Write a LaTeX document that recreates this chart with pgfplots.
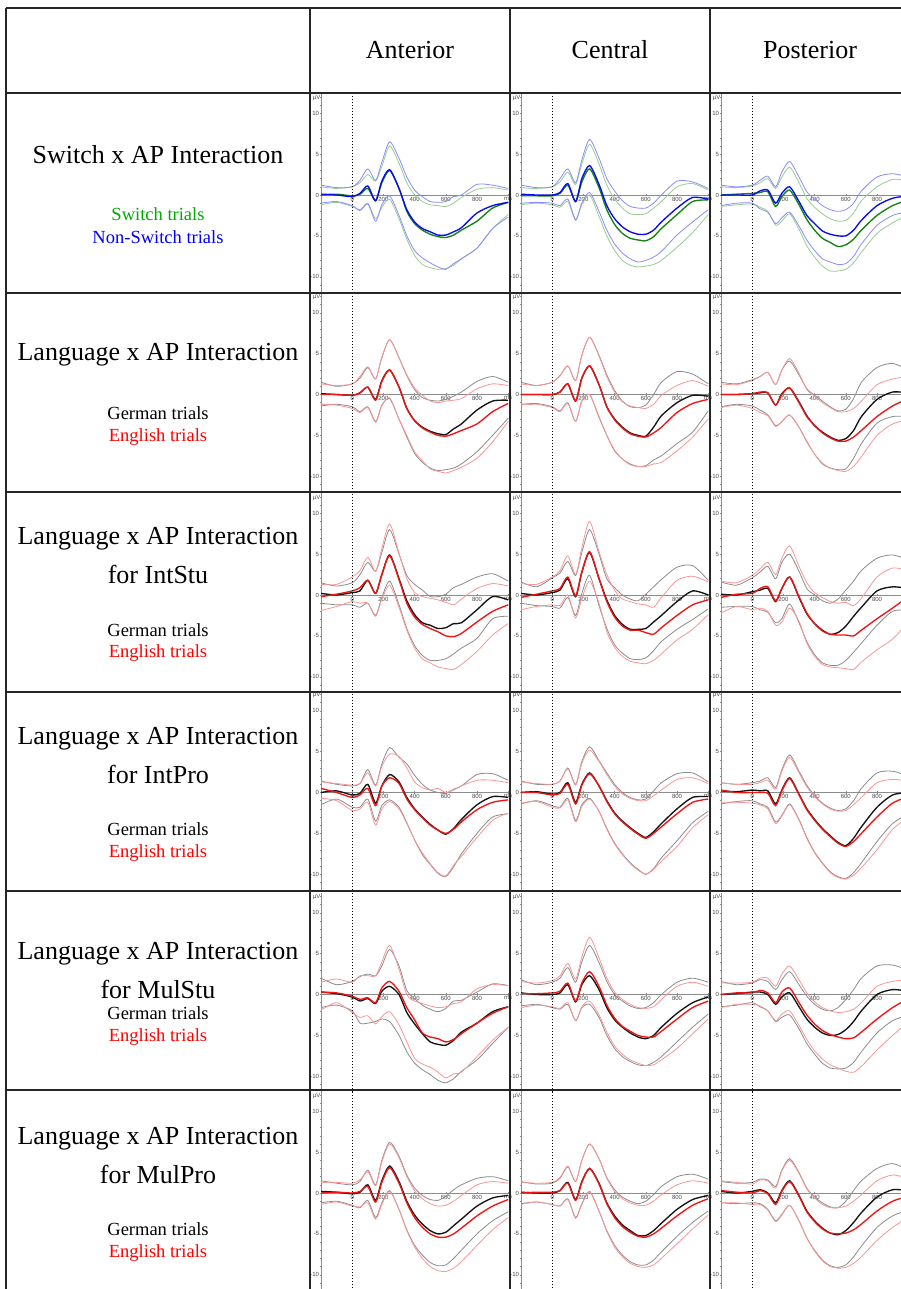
\documentclass[border=0pt]{standalone}
\usepackage{fontspec}
\setmainfont{Liberation Serif}
\newfontfamily\tickfam{Liberation Sans}
\usepackage{pgfplots}
\usepackage{pgfplotstable}
\pgfplotsset{compat=1.18}
\newcommand\tickf{\tickfam\fontsize{6}{6}\selectfont}
\definecolor{mgreen}{RGB}{20,130,20}
\definecolor{lgreen}{RGB}{150,205,150}
\definecolor{mblue}{RGB}{10,10,240}
\definecolor{lblue}{RGB}{140,140,250}
\definecolor{mred}{RGB}{240,20,20}
\definecolor{lred}{RGB}{250,150,150}
\definecolor{lgray}{RGB}{140,140,140}
\definecolor{mblack}{RGB}{20,20,20}
\definecolor{tgreen}{RGB}{0,170,0}
\definecolor{tblue}{RGB}{0,0,255}
\definecolor{tred}{RGB}{255,0,0}

\pgfplotsset{panel/.style={
  scale only axis, width=189pt, height=199.5pt,
  xmin=-200, xmax=1011.5, ymin=-11.93, ymax=12.48,
  axis y line=left, axis x line=middle,
  axis line style={-, draw=black!45, line width=0.7pt},
  xtick={0,200,400,600,800,1000}, xticklabels={0,200,400,600,800,ms},
  ytick={-10,-5,0,5,10}, yticklabels={-10,-5,0,5,10},
  minor ytick={-11,...,12},
  major tick length=2.5pt, minor tick length=1.2pt,
  tick style={draw=black!45, line width=0.4pt},
  tick label style={font=\tickf, text=black!70, inner sep=0.5pt},
  clip mode=individual},
  bnd/.style={line width=0.8pt, smooth, tension=0.45},
  mean/.style={line width=1.35pt, smooth, tension=0.45}}

% row 1: a = switch (green), b = non-switch (blue)
\pgfplotstableread{
t a b ah al bh bl
-200 0.0 0.1 1.0 -1.2 1.2 -1.0
-100 0.1 0.0 0.8 -0.9 0.9 -0.8
0 -0.1 -0.2 1.0 -1.4 1.0 -1.3
50 0.1 0.2 1.5 -1.8 1.8 -1.9
100 0.8 1.1 2.5 -1.0 3.2 -1.1
150 -0.7 -0.7 1.7 -2.9 1.8 -3.2
190 1.5 1.7 3.5 -1.5 4.0 -1.2
240 3.0 3.1 6.0 -0.5 6.5 -0.1
300 0.8 0.8 3.9 -2.9 4.5 -2.5
350 -2.0 -1.8 1.5 -5.4 2.2 -5.0
400 -3.5 -3.3 0.0 -7.4 0.6 -6.8
450 -4.3 -4.1 -0.8 -8.5 -0.2 -7.7
500 -4.8 -4.5 -1.2 -8.9 -0.8 -8.3
550 -5.1 -4.9 -1.3 -9.1 -0.9 -8.8
600 -5.2 -4.9 -1.4 -9.0 -0.8 -9.1
650 -4.9 -4.5 -1.0 -8.6 -0.2 -8.4
700 -4.3 -4.0 -0.3 -7.8 0.0 -7.8
800 -3.2 -2.2 0.7 -6.5 1.3 -6.5
900 -1.6 -1.3 0.9 -4.1 1.2 -4.1
1000 -0.9 -0.9 0.6 -2.4 0.8 -2.7
}\tAa
\pgfplotstableread{
t a b ah al bh bl
-200 -0.1 0.1 0.9 -1.2 1.2 -1.0
-100 -0.1 0.0 0.8 -1.0 0.9 -0.9
0 -0.1 0.0 1.0 -1.2 1.0 -1.0
50 0.2 0.3 1.6 -1.5 2.0 -1.3
100 1.2 1.4 2.8 -0.8 3.2 -0.5
150 -0.8 -0.8 1.3 -3.1 1.5 -3.0
190 1.6 2.0 3.8 -1.2 4.3 -1.0
240 3.2 3.6 6.2 0.0 6.8 0.3
300 0.9 1.3 3.8 -2.6 4.5 -2.0
350 -1.8 -1.3 1.2 -5.0 2.0 -4.3
400 -3.6 -2.9 -0.5 -6.8 0.5 -6.0
450 -4.7 -3.9 -1.6 -8.0 -0.7 -7.1
500 -5.3 -4.5 -2.3 -8.6 -1.4 -7.8
550 -5.5 -4.8 -2.4 -8.8 -1.6 -8.2
600 -5.6 -4.8 -2.3 -8.7 -1.6 -8.0
650 -5.1 -4.3 -1.6 -8.5 -1.0 -7.6
700 -4.1 -3.3 -0.8 -8.0 0.0 -6.9
800 -2.4 -1.6 1.0 -6.4 1.7 -4.9
900 -0.8 -0.3 1.4 -4.6 1.6 -3.3
1000 -0.6 -0.5 0.6 -2.4 0.8 -1.8
}\tAb
\pgfplotstableread{
t a b ah al bh bl
-200 0.0 0.0 1.0 -1.4 1.2 -1.3
-100 0.1 0.0 0.9 -1.2 1.0 -1.0
0 0.2 0.0 1.1 -1.1 1.2 -1.0
50 0.3 0.5 1.5 -1.5 1.8 -1.7
100 0.4 0.6 2.0 -2.0 2.3 -2.1
150 -1.4 -1.0 0.8 -3.7 1.0 -3.5
190 -0.2 0.2 2.2 -3.2 2.8 -2.8
240 0.6 1.0 3.4 -2.3 4.1 -2.1
300 -1.2 -0.8 1.5 -4.2 2.2 -3.8
350 -3.0 -2.5 -0.4 -6.2 0.4 -5.5
400 -4.3 -3.5 -1.5 -7.6 -0.5 -6.8
450 -5.3 -4.4 -2.3 -8.7 -1.3 -7.8
500 -5.8 -4.8 -2.9 -9.3 -1.8 -8.2
550 -6.3 -5.0 -3.2 -9.3 -2.0 -8.5
600 -6.1 -5.0 -3.1 -9.1 -1.8 -8.4
650 -5.4 -4.3 -2.2 -8.3 -1.0 -7.5
700 -4.3 -3.1 -0.7 -7.0 0.5 -6.0
800 -2.5 -1.3 1.0 -4.7 2.2 -3.7
900 -1.3 -0.4 1.9 -3.4 2.6 -2.5
1000 -0.6 -0.1 1.8 -2.4 2.2 -2.0
}\tAc
% rows 2-6: a = German (black), b = English (red)
\pgfplotstableread{
t a b ah al bh bl
-200 0.1 0.0 1.5 -1.4 1.3 -1.2
-100 0.0 0.0 1.0 -1.2 1.1 -1.3
0 -0.1 -0.1 1.3 -1.5 1.3 -1.7
50 0.2 0.2 2.0 -2.1 2.2 -2.2
100 0.9 0.9 3.3 -1.5 3.4 -1.6
150 -0.6 -0.7 1.9 -3.3 1.9 -3.4
190 1.7 1.6 4.5 -1.3 4.6 -1.4
240 3.0 3.0 6.7 -0.5 6.7 -0.4
300 0.9 0.9 4.5 -3.0 4.5 -3.0
350 -1.7 -1.7 2.3 -5.2 2.4 -5.0
400 -3.2 -3.2 0.6 -7.2 0.8 -7.0
450 -4.0 -4.1 -0.4 -8.3 -0.1 -8.1
500 -4.5 -4.6 -0.7 -9.0 -0.8 -9.1
550 -4.8 -5.0 -0.8 -9.3 -1.0 -9.4
600 -4.9 -5.1 -0.6 -9.2 -0.8 -9.6
650 -4.2 -4.8 -0.2 -9.0 -0.7 -9.3
700 -3.6 -4.4 0.3 -8.5 -0.5 -8.9
800 -1.9 -3.6 1.6 -7.0 0.7 -7.8
900 -0.8 -2.1 2.2 -5.0 1.3 -5.8
1000 -0.7 -1.1 1.5 -2.9 1.1 -3.3
}\tBa
\pgfplotstableread{
t a b ah al bh bl
-200 0.0 0.0 1.5 -1.2 1.3 -1.3
-100 0.0 0.0 1.1 -1.1 1.1 -1.2
0 0.0 0.0 1.5 -1.5 1.5 -1.6
50 0.3 0.3 2.3 -2.0 2.3 -2.1
100 1.3 1.3 3.5 -1.0 3.5 -1.1
150 -0.8 -0.8 1.7 -3.3 1.7 -3.3
190 2.0 2.0 4.8 -0.8 4.8 -0.8
240 3.5 3.5 7.0 0.0 7.0 0.0
300 1.2 1.2 4.8 -2.8 4.7 -2.7
350 -1.5 -1.5 2.4 -5.0 2.2 -5.0
400 -3.0 -3.1 0.5 -6.9 0.3 -6.8
450 -4.0 -4.1 -0.8 -7.9 -0.9 -7.9
500 -4.7 -4.8 -1.5 -8.5 -1.4 -8.6
550 -5.0 -5.1 -1.6 -8.8 -1.6 -8.8
600 -5.1 -5.2 -1.3 -8.7 -1.7 -8.8
650 -4.0 -4.7 0.0 -8.0 -1.2 -8.5
700 -2.6 -4.0 1.5 -7.5 -0.1 -8.3
800 -1.0 -2.2 2.8 -6.0 1.1 -6.9
900 -0.1 -1.1 2.5 -4.6 1.7 -5.2
1000 -0.2 -0.6 1.3 -2.0 1.0 -3.0
}\tBb
\pgfplotstableread{
t a b ah al bh bl
-200 0.0 0.0 1.5 -1.5 1.3 -1.6
-100 0.0 0.0 1.3 -1.2 1.2 -1.3
0 0.1 0.1 1.8 -1.4 1.7 -1.7
50 0.2 0.3 2.2 -1.9 2.2 -2.2
100 0.2 0.2 2.7 -2.5 2.7 -2.6
150 -1.3 -1.3 1.2 -3.8 1.2 -3.9
190 0.1 0.0 3.0 -3.3 3.0 -3.3
240 0.8 0.8 4.1 -2.5 4.4 -2.5
300 -0.9 -1.0 2.4 -4.0 2.6 -4.0
350 -2.6 -2.7 0.7 -5.8 0.6 -5.7
400 -3.8 -3.8 -0.1 -7.3 -0.2 -7.3
450 -4.6 -4.7 -0.8 -8.5 -1.0 -8.4
500 -5.2 -5.3 -1.5 -9.0 -1.6 -9.0
550 -5.6 -5.7 -2.0 -9.2 -2.1 -9.3
600 -5.4 -5.7 -1.8 -9.1 -2.1 -9.4
650 -4.4 -5.2 -0.5 -7.8 -1.7 -8.8
700 -2.7 -4.4 1.5 -6.0 -0.8 -7.6
800 -0.6 -2.7 3.3 -3.5 1.2 -5.0
900 0.3 -1.4 3.8 -2.7 1.9 -3.6
1000 0.2 -0.5 3.0 -2.7 2.2 -3.1
}\tBc
\pgfplotstableread{
t a b ah al bh bl
-200 0.2 -0.2 1.5 -1.0 1.3 -1.9
-100 0.0 0.1 1.1 -1.2 1.3 -1.4
0 0.3 0.5 1.5 -1.2 2.2 -0.8
50 0.5 0.9 2.5 -1.5 3.0 -1.0
100 1.8 1.8 4.0 -1.0 4.6 -1.0
150 0.2 0.2 2.9 -2.5 2.9 -2.6
190 2.5 2.5 5.2 -0.3 5.7 -0.5
240 4.9 4.8 8.0 1.7 8.7 1.2
300 2.0 1.9 5.0 -1.2 5.1 -1.5
350 -0.7 -1.0 2.4 -4.1 2.0 -4.3
400 -2.4 -2.7 1.3 -6.2 0.3 -6.5
450 -3.4 -3.6 0.6 -7.4 -0.2 -7.8
500 -3.7 -4.1 -0.2 -8.0 -0.4 -8.3
550 -4.1 -4.5 -0.2 -8.0 -0.6 -8.8
600 -4.0 -5.0 0.1 -7.8 -0.9 -9.0
650 -3.5 -5.1 0.9 -7.2 -1.2 -9.1
700 -3.4 -4.7 1.3 -6.5 -0.5 -8.5
800 -1.8 -3.3 2.2 -5.3 0.8 -6.9
900 -0.2 -2.0 2.6 -2.9 1.4 -4.9
1000 -0.6 -1.2 1.7 -2.6 1.1 -3.5
}\tCa
\pgfplotstableread{
t a b ah al bh bl
-200 0.2 -0.3 1.6 -1.0 1.4 -1.8
-100 0.0 0.1 1.0 -1.3 1.3 -1.4
0 0.3 0.5 2.1 -1.4 2.2 -1.2
50 0.6 0.8 2.7 -1.6 3.0 -1.3
100 2.0 2.2 4.1 -0.3 4.8 0.0
150 -0.2 -0.1 2.4 -2.5 2.5 -2.8
190 2.8 2.8 5.2 0.2 5.8 -0.4
240 5.2 5.3 8.0 2.4 9.0 1.7
300 2.0 2.0 5.0 -1.3 5.3 -1.0
350 -0.6 -0.8 2.0 -4.1 2.5 -4.5
400 -2.5 -2.7 0.9 -6.1 0.6 -6.4
450 -3.6 -3.8 0.0 -7.1 -0.5 -7.5
500 -4.2 -4.3 -0.5 -7.8 -0.8 -8.1
550 -4.2 -4.3 -0.7 -7.9 -1.1 -8.3
600 -4.1 -4.6 0.1 -7.7 -1.2 -8.4
650 -3.3 -4.8 1.0 -6.8 -1.5 -8.0
700 -2.5 -4.0 1.9 -5.7 -0.3 -7.2
800 -0.8 -2.5 3.4 -4.2 1.8 -5.5
900 0.5 -1.2 3.6 -3.0 2.3 -4.2
1000 0.0 -0.6 1.8 -1.7 1.6 -2.4
}\tCb
\pgfplotstableread{
t a b ah al bh bl
-200 0.1 -0.3 1.6 -1.5 1.7 -2.2
-100 0.0 0.1 1.2 -1.4 1.5 -1.4
0 0.4 0.2 2.1 -1.4 2.4 -1.8
50 0.6 0.8 2.8 -1.8 3.2 -1.6
100 0.8 1.0 3.5 -2.1 4.0 -2.0
150 -0.8 -0.7 2.0 -3.4 2.5 -3.7
190 0.8 0.8 4.0 -2.9 4.5 -3.3
240 2.2 2.2 5.0 -1.1 6.0 -1.6
300 -0.3 -0.2 2.9 -3.4 3.5 -3.2
350 -2.3 -2.2 0.8 -5.7 1.5 -5.9
400 -3.5 -3.5 0.0 -7.3 0.3 -7.5
450 -4.3 -4.4 -0.7 -8.3 -0.3 -8.5
500 -4.8 -4.8 -1.0 -8.6 -0.8 -8.8
550 -4.6 -4.9 -0.5 -8.6 -1.0 -8.9
600 -3.8 -4.9 0.6 -8.0 -0.9 -9.0
650 -2.6 -5.0 1.7 -7.0 -1.3 -9.1
700 -1.5 -4.3 3.0 -5.9 -0.4 -8.2
800 0.5 -2.9 4.5 -3.7 2.2 -6.7
900 1.0 -1.6 4.9 -2.0 3.3 -5.4
1000 0.8 -0.2 4.3 -1.8 3.0 -3.3
}\tCc
\pgfplotstableread{
t a b ah al bh bl
-200 0.0 0.5 1.4 -1.5 1.3 -0.7
-100 0.2 0.0 1.0 -0.8 1.1 -1.0
0 -0.3 -0.6 0.8 -1.8 0.9 -2.2
50 -0.1 -0.3 1.1 -1.8 1.1 -2.0
100 1.0 0.5 2.8 -0.8 2.4 -1.2
150 -1.3 -1.6 0.9 -3.5 0.8 -4.0
190 0.8 0.8 3.5 -1.6 3.2 -2.0
240 2.2 1.8 5.5 -0.9 4.7 -1.1
300 1.3 1.1 4.3 -1.8 4.4 -2.0
350 -0.6 -0.8 3.5 -3.7 3.0 -3.8
400 -2.0 -2.1 2.1 -5.8 1.3 -5.8
450 -3.0 -3.1 1.0 -7.6 0.6 -7.4
500 -3.9 -4.0 0.3 -8.8 0.3 -8.7
550 -4.6 -4.6 0.0 -9.9 0.5 -9.8
600 -5.1 -5.0 -0.1 -10.3 0.0 -10.2
650 -4.4 -4.5 0.4 -9.1 0.3 -8.9
700 -3.3 -3.6 0.8 -7.5 0.8 -7.8
800 -1.5 -2.1 2.2 -5.0 1.5 -5.5
900 -0.5 -1.2 2.3 -3.0 1.5 -3.4
1000 -0.6 -0.9 1.5 -2.6 1.2 -2.5
}\tDa
\pgfplotstableread{
t a b ah al bh bl
-200 0.0 0.0 1.4 -1.4 1.3 -1.3
-100 0.1 0.0 1.0 -1.0 1.1 -1.1
0 -0.2 -0.3 1.0 -1.6 1.0 -1.8
50 0.0 -0.1 1.4 -1.8 1.4 -1.9
100 1.2 1.0 3.0 -0.7 2.9 -0.9
150 -1.2 -1.4 1.0 -3.4 0.9 -3.6
190 1.0 0.9 3.8 -1.5 3.6 -1.7
240 2.4 2.3 5.6 -0.7 5.2 -0.8
300 0.8 0.8 3.9 -2.3 3.8 -2.3
350 -1.0 -1.1 2.4 -4.4 2.2 -4.5
400 -2.5 -2.6 1.0 -6.2 0.8 -6.3
450 -3.5 -3.6 0.0 -7.5 -0.2 -7.6
500 -4.3 -4.4 -0.6 -8.6 -0.7 -8.7
550 -5.0 -5.1 -0.9 -9.4 -1.0 -9.5
600 -5.5 -5.6 -0.8 -10.0 -1.0 -10.0
650 -4.8 -5.0 0.2 -9.3 -0.4 -9.4
700 -3.8 -4.2 1.2 -8.0 0.3 -8.4
800 -2.0 -2.6 2.3 -5.9 1.6 -6.6
900 -0.6 -1.2 2.4 -3.7 1.8 -4.3
1000 -0.5 -0.8 1.3 -2.3 1.1 -2.7
}\tDb
\pgfplotstableread{
t a b ah al bh bl
-200 0.2 0.3 1.2 -1.4 1.2 -1.2
-100 0.1 0.0 1.0 -1.1 1.0 -1.2
0 0.3 0.0 1.2 -1.0 1.0 -1.3
50 0.2 0.0 1.4 -1.4 1.2 -1.5
100 0.2 -0.1 1.8 -1.8 1.5 -2.0
150 -1.4 -1.6 0.6 -3.6 0.4 -3.8
190 0.3 0.2 2.8 -2.8 2.6 -2.9
240 1.8 1.7 4.6 -1.4 4.3 -1.5
300 -0.2 -0.3 2.6 -3.3 2.4 -3.4
350 -2.0 -2.1 0.9 -5.5 0.7 -5.6
400 -3.3 -3.4 -0.4 -7.3 -0.5 -7.4
450 -4.4 -4.5 -1.3 -8.6 -1.4 -8.7
500 -5.3 -5.4 -1.9 -9.7 -2.0 -9.8
550 -6.1 -6.2 -2.2 -10.3 -2.3 -10.4
600 -6.5 -6.6 -2.0 -10.5 -2.2 -10.6
650 -5.6 -6.0 -1.0 -9.8 -1.5 -10.1
700 -4.2 -5.0 0.5 -8.6 -0.6 -9.2
800 -1.8 -3.0 2.4 -6.0 1.2 -7.0
900 -0.3 -1.3 2.6 -3.8 1.6 -4.5
1000 0.0 -0.5 2.0 -2.6 1.4 -3.0
}\tDc
\pgfplotstableread{
t a b ah al bh bl
-200 0.3 0.3 2.0 -1.6 1.5 -1.9
-100 0.1 0.2 1.2 -1.3 1.9 -1.0
0 -0.3 -0.2 1.6 -2.0 1.5 -2.2
50 -0.8 -0.6 2.2 -3.5 2.3 -2.8
100 -0.5 -0.4 2.5 -3.5 2.3 -2.6
150 -1.1 -1.0 2.3 -3.3 2.3 -3.6
190 0.4 0.8 3.5 -3.0 4.0 -2.7
240 1.0 1.6 5.5 -3.3 6.0 -2.1
300 0.0 0.4 3.5 -5.0 3.1 -3.7
350 -2.2 -1.6 0.5 -7.0 0.0 -5.8
400 -3.6 -3.1 -0.5 -8.4 -0.8 -7.8
450 -4.8 -4.7 -1.3 -9.2 -1.1 -8.5
500 -5.8 -5.2 -1.8 -9.8 -1.4 -8.9
550 -6.1 -5.4 -2.1 -10.5 -1.6 -9.5
600 -6.2 -5.8 -1.7 -10.8 -1.5 -10.2
650 -5.6 -5.5 -0.8 -10.3 -1.1 -9.7
700 -4.6 -4.8 -0.7 -9.4 -0.9 -9.5
800 -3.5 -3.5 0.3 -8.0 0.7 -7.6
900 -2.1 -2.3 1.3 -6.0 1.2 -5.6
1000 -1.5 -1.5 1.1 -4.0 1.1 -4.0
}\tEa
\pgfplotstableread{
t a b ah al bh bl
-200 0.2 0.1 1.8 -1.4 1.6 -1.6
-100 0.0 0.1 1.2 -1.2 1.4 -1.3
0 0.0 0.2 1.5 -1.6 1.7 -1.5
50 0.2 0.4 2.0 -1.8 2.3 -1.7
100 1.2 1.4 3.3 -1.2 3.8 -1.0
150 -0.9 -0.8 1.5 -3.2 1.9 -3.2
190 1.2 1.4 4.0 -1.6 4.6 -1.5
240 2.3 2.8 6.0 -1.2 7.0 -0.8
300 0.6 1.0 3.9 -2.8 4.5 -2.5
350 -1.6 -1.3 1.6 -5.0 2.0 -4.6
400 -3.1 -2.9 0.0 -6.6 0.3 -6.3
450 -4.0 -3.9 -0.8 -7.6 -0.6 -7.3
500 -4.7 -4.5 -1.4 -8.2 -1.2 -8.0
550 -5.2 -5.0 -1.7 -8.6 -1.6 -8.4
600 -5.4 -5.2 -1.6 -8.7 -1.7 -8.7
650 -5.0 -5.2 -1.0 -8.3 -1.5 -8.6
700 -4.0 -4.5 0.0 -7.6 -0.6 -8.0
800 -2.3 -3.0 1.5 -5.8 1.0 -6.6
900 -1.0 -1.6 2.0 -4.0 1.5 -4.8
1000 -0.3 -0.8 1.5 -2.4 1.0 -3.0
}\tEb
\pgfplotstableread{
t a b ah al bh bl
-200 0.0 0.0 1.6 -1.5 1.4 -1.6
-100 0.1 0.2 1.2 -1.3 1.4 -1.2
0 0.3 0.2 1.4 -1.0 1.5 -1.2
50 0.3 0.5 1.8 -1.5 2.0 -1.4
100 0.0 0.2 1.6 -2.0 2.0 -2.0
150 -1.2 -1.0 0.6 -3.3 1.0 -3.2
190 -0.3 0.3 1.8 -2.8 2.5 -2.4
240 0.2 0.8 2.8 -2.5 3.5 -2.0
300 -1.5 -1.0 1.2 -4.2 1.8 -3.8
350 -3.0 -2.5 -0.2 -6.0 0.2 -5.5
400 -4.0 -3.6 -1.2 -7.3 -0.9 -6.9
450 -4.7 -4.4 -1.8 -8.4 -1.6 -7.9
500 -5.0 -4.9 -2.0 -9.0 -2.0 -8.6
550 -4.9 -5.2 -1.6 -9.1 -2.2 -9.0
600 -4.3 -5.4 -0.6 -9.0 -2.1 -9.4
650 -3.3 -5.3 0.6 -8.3 -1.8 -9.5
700 -2.0 -4.6 2.0 -7.0 -1.0 -8.8
800 0.0 -3.0 3.5 -4.7 1.0 -6.8
900 0.6 -1.6 3.6 -3.2 1.6 -5.0
1000 0.4 -0.5 3.0 -2.5 1.8 -3.4
}\tEc
\pgfplotstableread{
t a b ah al bh bl
-200 0.2 0.0 1.5 -1.2 1.3 -1.4
-100 0.1 0.1 1.2 -1.0 1.3 -1.1
0 -0.1 0.0 1.0 -1.5 1.2 -1.6
50 0.1 0.2 1.4 -1.8 1.6 -1.7
100 1.0 0.8 2.8 -0.9 2.6 -1.2
150 -0.9 -1.1 1.0 -3.0 0.9 -3.2
190 1.5 1.3 4.0 -1.2 3.8 -1.4
240 3.3 3.1 6.2 0.3 6.0 0.2
300 1.4 1.2 4.5 -2.0 4.3 -2.0
350 -1.0 -1.2 2.2 -4.5 2.0 -4.6
400 -2.7 -3.0 0.6 -6.4 0.3 -6.6
450 -3.8 -4.2 -0.3 -7.6 -0.7 -8.0
500 -4.6 -5.0 -0.8 -8.5 -1.3 -9.0
550 -5.0 -5.4 -0.9 -8.9 -1.6 -9.5
600 -4.8 -5.4 -0.4 -8.8 -1.5 -9.6
650 -4.0 -5.0 0.4 -8.0 -1.0 -9.2
700 -3.2 -4.3 1.0 -7.0 -0.3 -8.4
800 -1.6 -2.8 1.8 -5.0 1.0 -6.4
900 -0.6 -1.6 2.0 -3.4 1.4 -4.5
1000 -0.3 -0.8 1.5 -2.3 1.2 -3.0
}\tFa
\pgfplotstableread{
t a b ah al bh bl
-200 0.1 0.0 1.4 -1.3 1.3 -1.4
-100 0.0 0.1 1.1 -1.1 1.2 -1.1
0 0.0 0.1 1.2 -1.4 1.3 -1.4
50 0.3 0.3 1.8 -1.6 1.9 -1.6
100 1.3 1.2 3.2 -0.7 3.3 -0.8
150 -0.8 -0.9 1.4 -3.0 1.4 -3.1
190 1.4 1.3 4.0 -1.3 4.0 -1.4
240 3.0 3.0 6.0 0.2 6.0 0.1
300 1.2 1.1 4.2 -2.2 4.2 -2.2
350 -1.2 -1.3 1.9 -4.6 1.8 -4.7
400 -2.8 -3.0 0.4 -6.4 0.2 -6.6
450 -3.9 -4.1 -0.5 -7.6 -0.7 -7.8
500 -4.6 -4.8 -1.0 -8.4 -1.2 -8.6
550 -5.2 -5.3 -1.3 -8.8 -1.5 -9.0
600 -5.2 -5.4 -1.0 -8.8 -1.5 -9.1
650 -4.6 -5.0 -0.2 -8.2 -1.0 -8.8
700 -3.7 -4.3 0.8 -7.2 -0.2 -8.0
800 -2.0 -2.8 2.0 -5.3 1.0 -6.2
900 -0.8 -1.5 2.3 -3.6 1.5 -4.4
1000 -0.3 -0.7 1.7 -2.2 1.2 -2.7
}\tFb
\pgfplotstableread{
t a b ah al bh bl
-200 0.2 0.3 1.4 -1.2 1.5 -1.2
-100 0.0 0.1 1.2 -1.3 1.3 -1.2
0 0.2 0.0 1.3 -1.2 1.1 -1.4
50 0.4 0.3 1.7 -1.3 1.6 -1.4
100 0.0 -0.1 1.6 -2.0 1.5 -2.1
150 -1.2 -1.4 0.8 -3.4 0.6 -3.5
190 0.3 0.2 2.8 -2.6 2.7 -2.7
240 1.5 1.4 4.2 -1.5 4.0 -1.5
300 -0.3 -0.4 2.5 -3.4 2.4 -3.4
350 -2.2 -2.3 0.6 -5.5 0.5 -5.5
400 -3.4 -3.5 -0.5 -7.0 -0.6 -7.1
450 -4.3 -4.4 -1.2 -8.2 -1.4 -8.3
500 -4.9 -4.9 -1.7 -8.9 -1.8 -9.0
550 -5.1 -5.0 -1.8 -9.1 -1.8 -9.2
600 -4.6 -4.9 -1.0 -8.8 -1.6 -9.1
650 -3.6 -4.5 0.3 -7.8 -1.0 -8.6
700 -2.4 -3.8 1.5 -6.5 -0.2 -7.8
800 -0.5 -2.2 3.0 -4.2 1.5 -5.8
900 0.4 -1.0 3.6 -2.8 2.2 -4.2
1000 0.3 -0.4 2.8 -2.1 1.8 -3.0
}\tFc

% #1 axis left x in pt, #2 axis bottom (pt below top), #3 table, #4 mean a, #5 bound a, #6 mean b, #7 bound b
\newcommand{\panel}[7]{%
\begin{axis}[panel, at={(#1pt,-#2pt)}, anchor=south west]
\addplot[bnd,#5] table[x=t,y=ah]{#3};
\addplot[bnd,#5] table[x=t,y=al]{#3};
\addplot[bnd,#7] table[x=t,y=bh]{#3};
\addplot[bnd,#7] table[x=t,y=bl]{#3};
\addplot[mean,#4] table[x=t,y=a]{#3};
\addplot[mean,#6] table[x=t,y=b]{#3};
\draw[black, line width=1pt, dash pattern=on 1pt off 2pt] (axis cs:0,-11.93) -- (axis cs:0,12.48);
\node[anchor=north east, font=\tickf, text=black!70, inner sep=0.5pt] at (axis cs:-200,12.3) {µV};
\end{axis}}

\begin{document}
\begin{tikzpicture}[x=1pt,y=1pt]
\path[use as bounding box] (0,0) rectangle (901,-1289);
\fill[white] (0,0) rectangle (901,-1289);

% panels
\panel{321}{292.5}{\tAa}{mgreen}{lgreen}{mblue}{lblue}
\panel{521}{292.5}{\tAb}{mgreen}{lgreen}{mblue}{lblue}
\panel{721}{292.5}{\tAc}{mgreen}{lgreen}{mblue}{lblue}
\panel{321}{492}{\tBa}{mblack}{lgray}{mred}{lred}
\panel{521}{492}{\tBb}{mblack}{lgray}{mred}{lred}
\panel{721}{492}{\tBc}{mblack}{lgray}{mred}{lred}
\panel{321}{692.5}{\tCa}{mblack}{lgray}{mred}{lred}
\panel{521}{692.5}{\tCb}{mblack}{lgray}{mred}{lred}
\panel{721}{692.5}{\tCc}{mblack}{lgray}{mred}{lred}
\panel{321}{890}{\tDa}{mblack}{lgray}{mred}{lred}
\panel{521}{890}{\tDb}{mblack}{lgray}{mred}{lred}
\panel{721}{890}{\tDc}{mblack}{lgray}{mred}{lred}
\panel{321}{1092}{\tEa}{mblack}{lgray}{mred}{lred}
\panel{521}{1092}{\tEb}{mblack}{lgray}{mred}{lred}
\panel{721}{1092}{\tEc}{mblack}{lgray}{mred}{lred}
\panel{321}{1290.5}{\tFa}{mblack}{lgray}{mred}{lred}
\panel{521}{1290.5}{\tFb}{mblack}{lgray}{mred}{lred}
\panel{721}{1290.5}{\tFc}{mblack}{lgray}{mred}{lred}

% table rules
\begin{scope}[line width=1.5pt, black!85]
\draw (6,-8) -- (901,-8);
\draw[line width=2.2pt] (6,-93) -- (901,-93);
\foreach \yy in {293,492,692,891,1090} \draw (6,-\yy) -- (901,-\yy);
\foreach \xx in {6,310,510,710} \draw (\xx,-8) -- (\xx,-1289);
\end{scope}

% header
\begin{scope}[font=\fontsize{26}{30}\selectfont]
\node at (410,-50) {Anterior};
\node at (610,-50) {Central};
\node at (810,-50) {Posterior};
\node at (158,-155) {Switch x AP Interaction};
\node at (158,-355) {Language x AP Interaction};
\node at (158,-539) {Language x AP Interaction};
\node at (158,-574) {for IntStu};
\node at (158,-739) {Language x AP Interaction};
\node at (158,-774) {for IntPro};
\node at (158,-954) {Language x AP Interaction};
\node at (158,-989) {for MulStu};
\node at (158,-1139) {Language x AP Interaction};
\node at (158,-1174) {for MulPro};
\end{scope}
\begin{scope}[font=\fontsize{18.5}{22}\selectfont]
\node[text=tgreen] at (158,-214) {Switch trials};
\node[text=tblue] at (158,-237) {Non-Switch trials};
\node at (158,-413) {German trials};
\node[text=tred] at (158,-437) {English trials};
\node at (158,-630) {German trials};
\node[text=tred] at (158,-653) {English trials};
\node at (158,-829) {German trials};
\node[text=tred] at (158,-853) {English trials};
\node at (158,-1013) {German trials};
\node[text=tred] at (158,-1037) {English trials};
\node at (158,-1229) {German trials};
\node[text=tred] at (158,-1253) {English trials};
\end{scope}
\end{tikzpicture}
\end{document}
